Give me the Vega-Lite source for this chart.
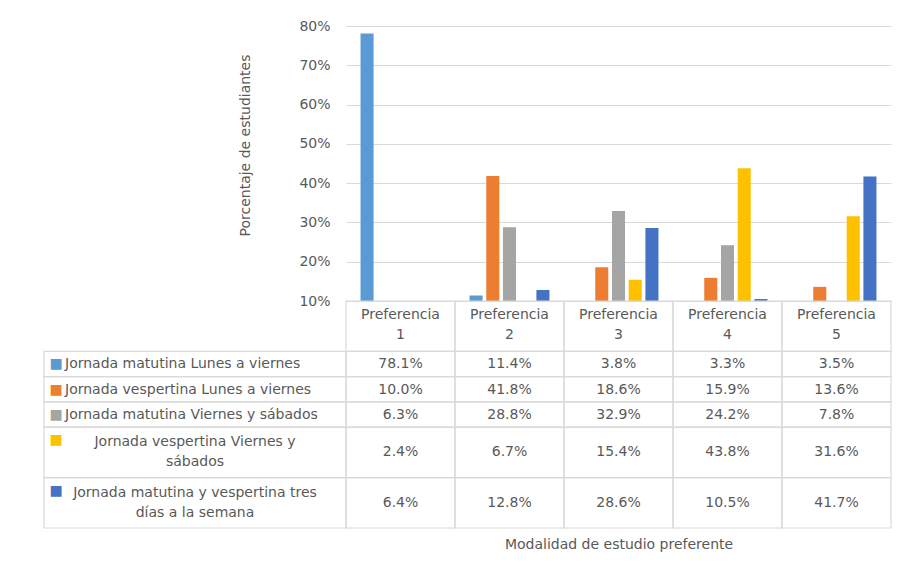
{
  "$schema": "https://vega.github.io/schema/vega-lite/v6.json",
  "autosize": {"type": "pad"},
  "padding": {"left": 43, "top": 19, "right": 5, "bottom": 5},
  "background": "white",
  "config": {"font": "DejaVu Sans", "view": {"stroke": null}},
  "datasets": {
    "tabla": [
      {"orden": 0, "fila": "encabezado", "lineas": 2},
      {"orden": 1, "fila": "Jornada matutina Lunes a viernes", "lineas": 1, "Preferencia 1": 0.781, "Preferencia 2": 0.114, "Preferencia 3": 0.038, "Preferencia 4": 0.033, "Preferencia 5": 0.035},
      {"orden": 2, "fila": "Jornada vespertina Lunes a viernes", "lineas": 1, "Preferencia 1": 0.100, "Preferencia 2": 0.418, "Preferencia 3": 0.186, "Preferencia 4": 0.159, "Preferencia 5": 0.136},
      {"orden": 3, "fila": "Jornada matutina Viernes y sábados", "lineas": 1, "Preferencia 1": 0.063, "Preferencia 2": 0.288, "Preferencia 3": 0.329, "Preferencia 4": 0.242, "Preferencia 5": 0.078},
      {"orden": 4, "fila": "Jornada vespertina Viernes y\nsábados", "lineas": 2, "Preferencia 1": 0.024, "Preferencia 2": 0.067, "Preferencia 3": 0.154, "Preferencia 4": 0.438, "Preferencia 5": 0.316},
      {"orden": 5, "fila": "Jornada matutina y vespertina tres\ndías a la semana", "lineas": 2, "Preferencia 1": 0.064, "Preferencia 2": 0.128, "Preferencia 3": 0.286, "Preferencia 4": 0.105, "Preferencia 5": 0.417}
    ]
  },
  "columns": 2,
  "spacing": 0,
  "bounds": "flush",
  "align": "each",
  "concat": [
    {
      "width": 302,
      "height": 275,
      "data": {"values": []},
      "mark": "point"
    },
    {
      "width": 545,
      "height": 275,
      "data": {"name": "tabla"},
      "transform": [
        {"filter": "datum.orden > 0"},
        {"fold": ["Preferencia 1", "Preferencia 2", "Preferencia 3", "Preferencia 4", "Preferencia 5"], "as": ["pref", "valor"]}
      ],
      "mark": {"type": "bar", "clip": true},
      "encoding": {
        "x": {"field": "pref", "type": "nominal", "axis": null,
              "scale": {"domain": ["Preferencia 1", "Preferencia 2", "Preferencia 3", "Preferencia 4", "Preferencia 5"], "paddingInner": 0, "paddingOuter": 0}},
        "xOffset": {"field": "fila", "type": "nominal",
              "scale": {"domain": ["Jornada matutina Lunes a viernes", "Jornada vespertina Lunes a viernes", "Jornada matutina Viernes y sábados", "Jornada vespertina Viernes y\nsábados", "Jornada matutina y vespertina tres\ndías a la semana"], "paddingInner": 0.22, "paddingOuter": 0.87}},
        "y": {"field": "valor", "type": "quantitative",
              "scale": {"domain": [0.1, 0.8], "nice": false, "zero": false},
              "axis": {"values": [0.1, 0.2, 0.3, 0.4, 0.5, 0.6, 0.7, 0.8], "format": ".0%", "grid": true, "gridColor": "#d9d9d9", "domain": false, "ticks": false,
                       "labelPadding": 16, "labelFontSize": 14, "labelColor": "#595959",
                       "title": "Porcentaje de estudiantes", "titleFontSize": 14, "titleFontWeight": "normal", "titleColor": "#595959", "titlePadding": 46, "titleY": 119}},
        "y2": {"datum": 0.1},
        "color": {"field": "fila", "type": "nominal", "legend": null,
              "scale": {"domain": ["Jornada matutina Lunes a viernes", "Jornada vespertina Lunes a viernes", "Jornada matutina Viernes y sábados", "Jornada vespertina Viernes y\nsábados", "Jornada matutina y vespertina tres\ndías a la semana"],
                        "range": ["#5B9BD5", "#ED7D31", "#A5A5A5", "#FFC000", "#4472C4"]}}
      }
    },
    {
      "width": 302,
      "height": 227,
      "data": {"name": "tabla"},
      "transform": [
        {"stack": "lineas", "groupby": [], "sort": [{"field": "orden", "order": "ascending"}], "as": ["y0", "y1"]},
        {"filter": "datum.orden > 0"}
      ],
      "encoding": {
        "y": {"field": "y0", "type": "quantitative", "axis": null, "scale": {"domain": [0, 9], "reverse": true, "nice": false, "zero": false}}
      },
      "layer": [
        {"mark": {"type": "rect", "filled": false, "stroke": "#d9d9d9", "strokeWidth": 1.2},
         "encoding": {"y2": {"field": "y1"}}},
        {
          "mark": {"type": "text", "text": "■", "fontSize": 14, "baseline": "middle", "align": "center", "dy": 13},
          "encoding": {
            "x": {"value": 12},
            "color": {"field": "fila", "type": "nominal", "legend": null,
              "scale": {"domain": ["Jornada matutina Lunes a viernes", "Jornada vespertina Lunes a viernes", "Jornada matutina Viernes y sábados", "Jornada vespertina Viernes y\nsábados", "Jornada matutina y vespertina tres\ndías a la semana"],
                        "range": ["#5B9BD5", "#ED7D31", "#A5A5A5", "#FFC000", "#4472C4"]}}
          }
        },
        {
          "transform": [{"filter": "datum.lineas == 1"}],
          "mark": {"type": "text", "align": "left", "baseline": "middle", "fontSize": 14, "color": "#595959", "dy": 13},
          "encoding": {"x": {"value": 21}, "text": {"field": "fila"}}
        },
        {
          "transform": [{"filter": "datum.lineas == 2"}],
          "mark": {"type": "text", "align": "center", "baseline": "middle", "fontSize": 14, "color": "#595959", "lineBreak": "\n", "lineHeight": 20, "dy": 15},
          "encoding": {"text": {"field": "fila"}}
        }
      ]
    },
    {
      "width": 545,
      "height": 227,
      "data": {"name": "tabla"},
      "transform": [
        {"stack": "lineas", "groupby": [], "sort": [{"field": "orden", "order": "ascending"}], "as": ["y0", "y1"]},
        {"fold": ["Preferencia 1", "Preferencia 2", "Preferencia 3", "Preferencia 4", "Preferencia 5"], "as": ["pref", "valor"]}
      ],
      "encoding": {
        "x": {"field": "pref", "type": "nominal",
              "scale": {"domain": ["Preferencia 1", "Preferencia 2", "Preferencia 3", "Preferencia 4", "Preferencia 5"], "paddingInner": 0, "paddingOuter": 0},
              "axis": {"labels": false, "ticks": false, "domain": false, "title": "Modalidad de estudio preferente", "titleFontSize": 14, "titleFontWeight": "normal", "titleColor": "#595959", "titlePadding": 9}},
        "y": {"field": "y0", "type": "quantitative", "axis": null, "scale": {"domain": [0, 9], "reverse": true, "nice": false, "zero": false}}
      },
      "layer": [
        {"mark": {"type": "rect", "filled": false, "stroke": "#d9d9d9", "strokeWidth": 1.2},
         "encoding": {"y2": {"field": "y1"}}},
        {
          "transform": [{"filter": "datum.orden == 0"}],
          "mark": {"type": "text", "align": "center", "baseline": "middle", "fontSize": 14, "color": "#595959", "lineBreak": " ", "lineHeight": 20, "dy": 14},
          "encoding": {"text": {"field": "pref"}}
        },
        {
          "transform": [{"filter": "datum.orden > 0 && datum.lineas == 1"}],
          "mark": {"type": "text", "align": "center", "baseline": "middle", "fontSize": 14, "color": "#595959", "dy": 13},
          "encoding": {"text": {"field": "valor", "type": "quantitative", "format": ".1%"}}
        },
        {
          "transform": [{"filter": "datum.orden > 0 && datum.lineas == 2"}],
          "mark": {"type": "text", "align": "center", "baseline": "middle", "fontSize": 14, "color": "#595959", "dy": 25},
          "encoding": {"text": {"field": "valor", "type": "quantitative", "format": ".1%"}}
        }
      ]
    }
  ]
}
